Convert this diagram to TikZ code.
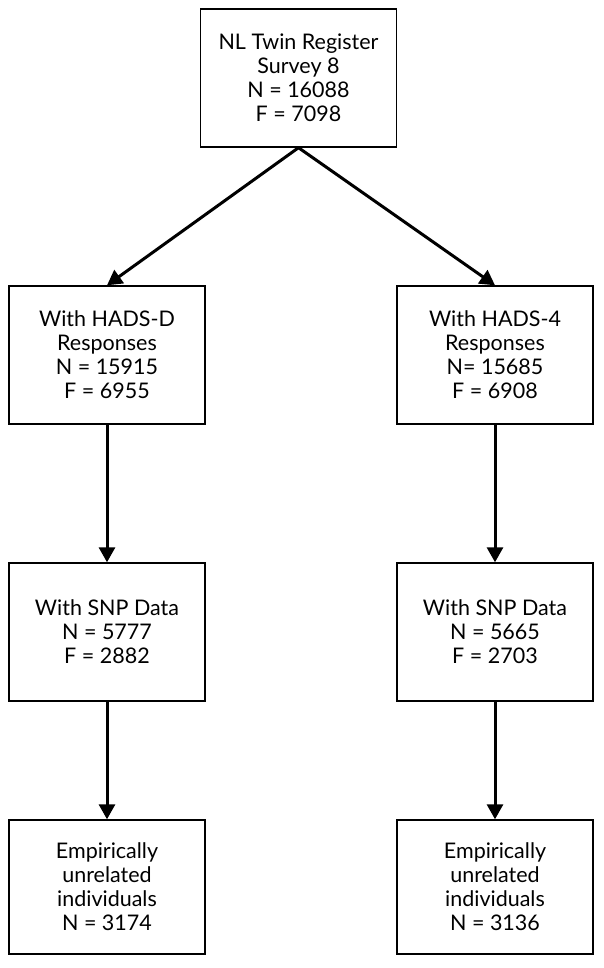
\documentclass[tikz,border=0pt]{standalone}
\usepackage{fontspec}
\setmainfont{Lato}
\usetikzlibrary{arrows.meta}
\begin{document}
\begin{tikzpicture}[x=1pt,y=-1pt,
  box/.style={draw=black, line width=1.4pt, fill=white, align=center,
    minimum width=196pt, minimum height=138pt, inner sep=0pt,
    font=\fontsize{21.5}{24}\selectfont},
  conn/.style={line width=3pt, -{Triangle[length=15pt,width=16pt]}}]
\fill[white] (0,0) rectangle (603,968);
\useasboundingbox (0,0) rectangle (603,968);
\node[box] (top) at (298.5,78) {NL Twin Register\\Survey 8\\N = 16088\\F = 7098};
\node[box] (l2) at (107,355) {With HADS-D\\Responses\\N = 15915\\F = 6955};
\node[box] (r2) at (495,355) {With HADS-4\\Responses\\N= 15685\\F = 6908};
\node[box] (l3) at (107,632) {With SNP Data\\N = 5777\\F = 2882};
\node[box] (r3) at (495,632) {With SNP Data\\N = 5665\\F = 2703};
\node[box, minimum height=134pt] (l4) at (107,887) {Empirically\\unrelated\\individuals\\N = 3174};
\node[box, minimum height=134pt] (r4) at (495,887) {Empirically\\unrelated\\individuals\\N = 3136};
\draw[conn] (top.south) -- (l2.north);
\draw[conn] (top.south) -- (r2.north);
\draw[conn] (l2.south) -- (l3.north);
\draw[conn] (r2.south) -- (r3.north);
\draw[conn] (l3.south) -- (l4.north);
\draw[conn] (r3.south) -- (r4.north);
\end{tikzpicture}
\end{document}
